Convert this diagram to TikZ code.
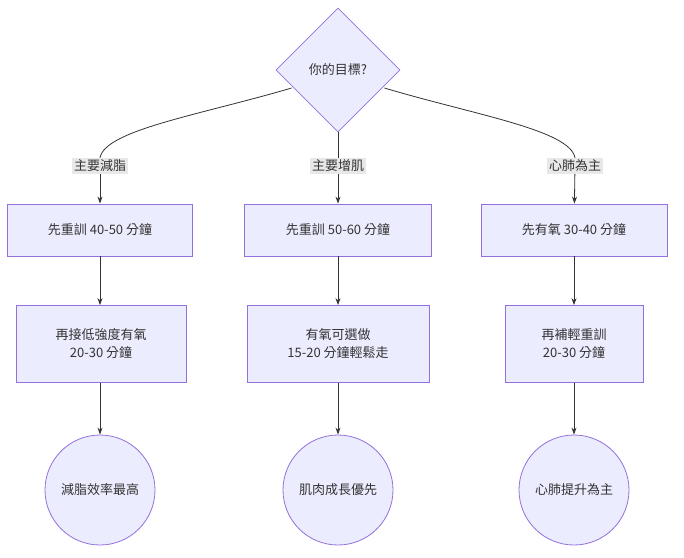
\documentclass[tikz,border=0pt]{standalone}
\usepackage{fontspec}
\setmainfont{Noto Sans CJK TC}
\usetikzlibrary{shapes.geometric,arrows.meta}
\definecolor{nf}{HTML}{ECECFF}
\definecolor{ns}{HTML}{9370DB}
\definecolor{ln}{HTML}{333333}
\definecolor{lb}{HTML}{E8E8E8}
\begin{document}
\begin{tikzpicture}[x=1pt,y=-1pt,
 box/.style={draw=ns,fill=nf,line width=0.8pt,font=\fontsize{13}{18}\selectfont,align=center,text=ln},
 rect/.style={box,rectangle,minimum height=52pt,inner sep=0pt},
 lab/.style={fill=lb,font=\fontsize{13}{16}\selectfont,inner sep=2pt,text=ln},
 ar/.style={draw=ln,line width=0.8pt,-{Stealth[length=7pt,width=5pt]}},
 ln/.style={draw=ln,line width=0.8pt}]
\useasboundingbox (0,0) rectangle (684,557);
\node[box,diamond,minimum width=124pt,minimum height=124pt,inner sep=0pt] (d) at (338,70) {你的目標?};
\node[lab] (l1) at (100,166) {主要減脂};
\node[lab] (l2) at (338,166) {主要增肌};
\node[lab] (l3) at (575,166) {心肺為主};
\node[rect,minimum width=185pt] (a1) at (100,230) {先重訓 40-50 分鐘};
\node[rect,minimum width=187pt] (b1) at (338,230) {先重訓 50-60 分鐘};
\node[rect,minimum width=186pt] (c1) at (574,230) {先有氧 30-40 分鐘};
\node[rect,minimum width=170pt,minimum height=77pt] (a2) at (101,344) {再接低強度有氧\\20-30 分鐘};
\node[rect,minimum width=182pt,minimum height=77pt] (b2) at (338,344) {有氧可選做\\15-20 分鐘輕鬆走};
\node[rect,minimum width=138pt,minimum height=77pt] (c2) at (574,344) {再補輕重訓\\20-30 分鐘};
\node[box,circle,minimum size=110pt,inner sep=0pt] (a3) at (100,490) {減脂效率最高};
\node[box,circle,minimum size=110pt,inner sep=0pt] (b3) at (338,490) {肌肉成長優先};
\node[box,circle,minimum size=110pt,inner sep=0pt] (c3) at (574,490) {心肺提升為主};
\draw[ln] (d.west) ++(16,18) coordinate (s1) .. controls (200,115) and (105,130) .. (l1.north);
\draw[ln] (d.south) -- (l2.north);
\draw[ln] (d.east) ++(-16,18) coordinate (s3) .. controls (475,115) and (570,130) .. (l3.north);
\draw[ar] (l1) -- (a1);
\draw[ar] (l2) -- (b1);
\draw[ar] (l3) -- (c1);
\draw[ar] (a1) -- (a2.north -| a1);
\draw[ar] (b1) -- (b2);
\draw[ar] (c1) -- (c2);
\draw[ar] (a2.south -| a3) -- (a3);
\draw[ar] (b2) -- (b3);
\draw[ar] (c2) -- (c3);
\end{tikzpicture}
\end{document}
